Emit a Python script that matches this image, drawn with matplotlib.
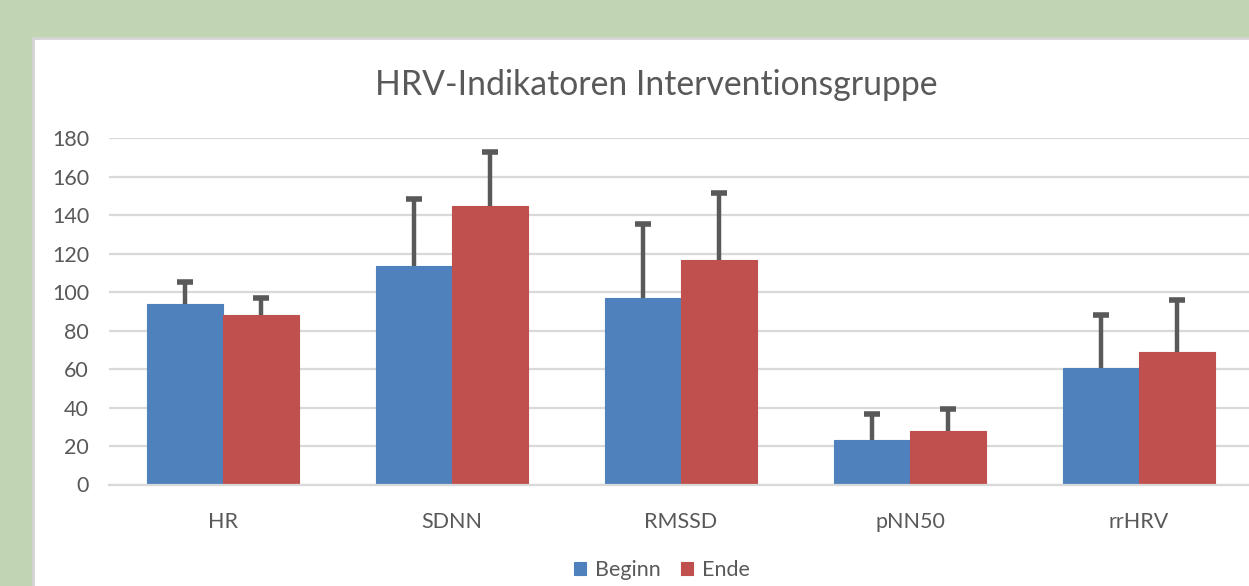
"""HRV-Indikatoren Interventionsgruppe: grouped bars with upper error bars."""

import matplotlib

matplotlib.use("Agg")
import matplotlib.pyplot as plt
import numpy as np
from matplotlib.patches import Rectangle

categories = ["HR", "SDNN", "RMSSD", "pNN50", "rrHRV"]
series_names = ["Beginn", "Ende"]
beginn_values = [94, 113.5, 97, 23.3, 60.5]
ende_values = [88, 144.6, 116.7, 28, 68.8]
beginn_err = [11.5, 35.2, 38.6, 13.5, 27.7]
ende_err = [8.9, 28.2, 34.7, 11.2, 27.2]
y_ticks = [0, 20, 40, 60, 80, 100, 120, 140, 160, 180]

BLUE = "#4F81BD"
RED = "#C0504D"
TEXT = "#595959"
GRID = "#D9D9D9"
ERR = "#595959"

W, H = 1249, 586
plt.rcParams["font.family"] = ["Lato", "DejaVu Sans"]

fig = plt.figure(figsize=(W / 100, H / 100), dpi=100)
fig.patch.set_facecolor("#C1D5B2")

# white chart panel (runs off the right and bottom edge)
fig.patches.append(
    Rectangle(
        (33 / W, -0.05), 1.1, (H - 38) / H + 0.05,
        transform=fig.transFigure, facecolor="white",
        edgecolor="#D4D4D4", linewidth=2, zorder=-1,
    )
)

ax_left, ax_right = 108.5, 1253.5
ax_top, ax_bottom = 138.3, 484.5
ax = fig.add_axes([
    ax_left / W, (H - ax_bottom) / H,
    (ax_right - ax_left) / W, (ax_bottom - ax_top) / H,
])
ax.set_facecolor("none")

x = np.arange(len(categories))
width = 0.332
series = [
    (beginn_values, beginn_err, BLUE, -width / 2),
    (ende_values, ende_err, RED, width / 2),
]
for name, (vals, errs, color, offset) in zip(series_names, series):
    xs = x + offset
    ax.bar(xs, vals, width=width, color=color, edgecolor=color,
           linewidth=0.8, label=name, zorder=2)
    tops = np.array(vals) + np.array(errs)
    ax.vlines(xs, vals, tops, color=ERR, linewidth=3.2, zorder=3)
    ax.plot(xs, tops, linestyle="none", marker="_", markersize=11,
            markeredgewidth=4, color=ERR, zorder=3)

ax.set_xlim(-0.5, 4.5)
ax.set_ylim(0, 180)
ax.set_yticks(y_ticks)
ax.set_xticks(x)
ax.set_xticklabels(categories)
ax.yaxis.grid(True, color=GRID, linewidth=1.6, zorder=0)
ax.set_axisbelow(True)
for side in ["left", "right", "top"]:
    ax.spines[side].set_visible(False)
ax.spines["bottom"].set_color(GRID)
ax.spines["bottom"].set_linewidth(1.6)
ax.tick_params(axis="both", length=0, colors=TEXT, labelsize=15.5)
ax.tick_params(axis="y", pad=14)
ax.tick_params(axis="x", pad=20)

fig.text(656 / W, 1 - 85 / H, "HRV-Indikatoren Interventionsgruppe",
         ha="center", va="center", fontsize=24.3, color=TEXT)

leg = fig.legend(
    loc="center", bbox_to_anchor=(662 / W, 1 - 570 / H), ncol=2,
    frameon=False, fontsize=15.5, handlelength=0.56, handleheight=0.56,
    handletextpad=0.4, columnspacing=0.95,
)
for t in leg.get_texts():
    t.set_color(TEXT)

fig.savefig("out.png", dpi=100, facecolor=fig.get_facecolor())
